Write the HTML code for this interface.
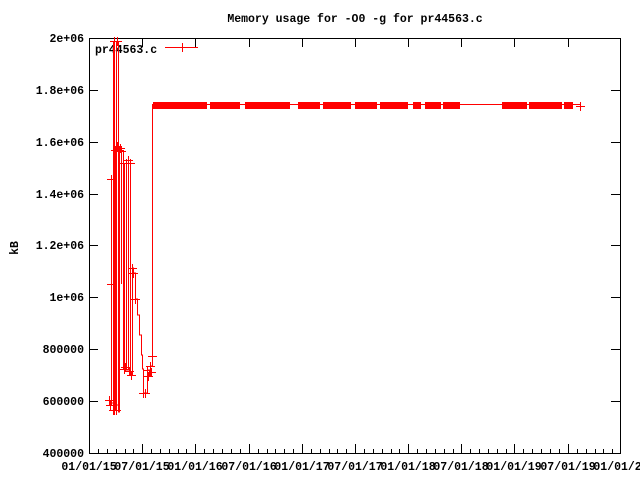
<!DOCTYPE html>
<html><head><meta charset="utf-8"><style>
html,body{margin:0;padding:0;background:#fff;overflow:hidden}
svg{display:block}
svg text{font-family:"Liberation Mono",monospace;font-size:11.5px;font-weight:bold;fill:#000}
</style></head><body>
<svg width="640" height="480" xmlns="http://www.w3.org/2000/svg" shape-rendering="crispEdges">
<rect x="89.5" y="38.5" width="531" height="415" fill="none" stroke="#000"/>
<g stroke="#000">
<path d="M89,453.5h9M89,401.5h9M89,349.5h9M89,297.5h9M89,245.5h9M89,194.5h9M89,142.5h9M89,90.5h9M89,38.5h9
M620,453.5h-9M620,401.5h-9M620,349.5h-9M620,297.5h-9M620,245.5h-9M620,194.5h-9M620,142.5h-9M620,90.5h-9M620,38.5h-9"/>
<path d="M89.5,453v-9M142.5,453v-9M195.5,453v-9M249.5,453v-9M302.5,453v-9M355.5,453v-9M408.5,453v-9M461.5,453v-9M514.5,453v-9M568.5,453v-9
M89.5,38v9M142.5,38v9M195.5,38v9M249.5,38v9M302.5,38v9M355.5,38v9M408.5,38v9M461.5,38v9M514.5,38v9M568.5,38v9"/>
<path d="M98.5,453v-4M107.5,453v-4M116.5,453v-4M125.5,453v-4M133.5,453v-4
M151.5,453v-4M160.5,453v-4M169.5,453v-4M178.5,453v-4M186.5,453v-4
M204.5,453v-4M213.5,453v-4M222.5,453v-4M231.5,453v-4M240.5,453v-4
M258.5,453v-4M267.5,453v-4M275.5,453v-4M284.5,453v-4M293.5,453v-4
M311.5,453v-4M320.5,453v-4M329.5,453v-4M337.5,453v-4M346.5,453v-4
M364.5,453v-4M373.5,453v-4M382.5,453v-4M391.5,453v-4M399.5,453v-4
M417.5,453v-4M426.5,453v-4M435.5,453v-4M444.5,453v-4M453.5,453v-4
M470.5,453v-4M479.5,453v-4M488.5,453v-4M497.5,453v-4M506.5,453v-4
M523.5,453v-4M532.5,453v-4M541.5,453v-4M550.5,453v-4M559.5,453v-4
M577.5,453v-4M586.5,453v-4M595.5,453v-4M603.5,453v-4M612.5,453v-4"/>
</g>
<g text-anchor="end">
<text x="84" y="457">400000</text><text x="84" y="405">600000</text><text x="84" y="353">800000</text>
<text x="84" y="301">1e+06</text><text x="84" y="249">1.2e+06</text><text x="84" y="198">1.4e+06</text>
<text x="84" y="146">1.6e+06</text><text x="84" y="94">1.8e+06</text><text x="84" y="42">2e+06</text>
</g>
<g text-anchor="middle">
<text x="89" y="470">01/01/15</text><text x="142" y="470">07/01/15</text><text x="195" y="470">01/01/16</text>
<text x="249" y="470">07/01/16</text><text x="302" y="470">01/01/17</text><text x="355" y="470">07/01/17</text>
<text x="408" y="470">01/01/18</text><text x="461" y="470">07/01/18</text><text x="514" y="470">01/01/19</text>
<text x="568" y="470">07/01/19</text><text x="621" y="470">01/01/20</text>
<text x="355" y="22">Memory usage for -O0 -g for pr44563.c</text>
</g>
<text transform="translate(18,248) rotate(-90)" text-anchor="middle">kB</text>
<text x="95" y="53">pr44563.c</text>
<g stroke="#f00" fill="none">
<path d="M165,47.5H198M182.5,43V52"/>
<path d="M109.5,405H111.5V179V403H113.5V41V410H114.5V41V410H115.5V150V410H116.5V41V405H118.5V41V412H119.5V150H121.5V146V284V151H123.5V163V369H124.5V163V369H126.5V163V370H128.5V160V369H130.5V160V375H132.5V266V326V268H133.5V273H135.5V299H137.5V315H139.5V335H141.5V355H142.5V369H143.5V393H145.5V393H147.5V370H149.5V376H150.5V366H152.5V356V224V104.5H580"/>
<path d="M105,400.5h9M109.5,396v9M106,405.5h9M110.5,401v9M107,179.5h9M111.5,175v9M107,284.5h9M111.5,280v9
M109,410.5h9M113.5,406v9M110,410.5h9M114.5,406v9M111,150.5h9M115.5,146v9M112,410.5h9M116.5,406v9
M113,146.5h9M117.5,142v9M115,150.5h9M119.5,146v9M116,148.5h9M120.5,144v9M117,151.5h9M121.5,147v9
M119,163.5h9M123.5,159v9M120,369.5h9M124.5,365v9M121,367.5h9M125.5,363v9M122,163.5h9M126.5,159v9
M124,160.5h9M128.5,156v9M125,371.5h9M129.5,367v9M126,163.5h9M130.5,159v9M127,375.5h9M131.5,371v9
M128,268.5h9M132.5,264v9M129,273.5h9M133.5,269v9M131,299.5h9M135.5,295v9M139,393.5h9M143.5,389v9
M141,393.5h9M145.5,389v9M143,370.5h9M147.5,366v9M144,376.5h9M148.5,372v9M146,366.5h9M150.5,362v9
M148,356.5h9M152.5,352v9M147,372.5h9M151.5,368v9M110,41.5h9M114.5,37v9M113,41.5h9M117.5,37v9
M576,106.5h9M580.5,102v9"/>
</g>
<g fill="#f00">
<rect x="153" y="102" width="54" height="7"/><rect x="210" y="102" width="30" height="7"/>
<rect x="245" y="102" width="45" height="7"/><rect x="298" y="102" width="22" height="7"/>
<rect x="323" y="102" width="28" height="7"/><rect x="355" y="102" width="22" height="7"/>
<rect x="380" y="102" width="28" height="7"/><rect x="413" y="102" width="8" height="7"/>
<rect x="425" y="102" width="16" height="7"/><rect x="443" y="102" width="17" height="7"/>
<rect x="502" y="102" width="25" height="7"/><rect x="529" y="102" width="33" height="7"/>
<rect x="564" y="102" width="9" height="7"/>
</g>
</svg>
</body></html>
